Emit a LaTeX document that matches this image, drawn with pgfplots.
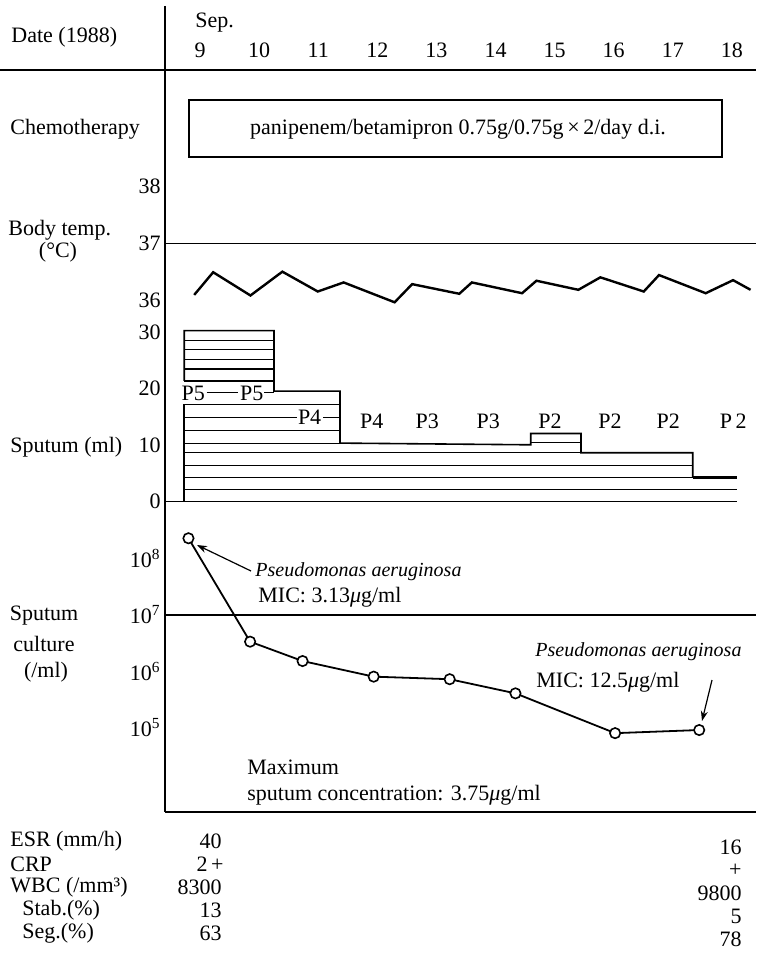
\documentclass[border=0pt]{standalone}
\usepackage{pgfplots}
\pgfplotsset{compat=1.18}
\usepackage{fontspec}
\setmainfont{Liberation Serif}
\usetikzlibrary{arrows.meta}

\pgfplotsset{
  panel/.style={
    scale only axis, width=295.5pt,
    xmin=8.408, xmax=18.408,
    axis line style={draw=none},
    tick style={draw=none},
    xtick=\empty,
    clip=false,
    anchor=south west,
    /pgf/number format/assume math mode=true,
    ticklabel style={font=\fontsize{11}{13}\selectfont},
    yticklabel style={anchor=east, inner sep=0pt, xshift=-2pt},
  },
  stripe/.style={line width=0.6pt, mark=none, black},
  outline/.style={line width=0.8pt, mark=none, black},
}

\begin{document}
\begin{tikzpicture}[font=\fontsize{11}{13}\selectfont]
\useasboundingbox (0pt,0pt) rectangle (378pt,-481.5pt);

% ---------------- Body temperature ----------------
\begin{axis}[panel, at={(82.5pt,-155pt)}, height=75pt,
  ymin=35.824, ymax=38.469, ytick={36,37,38}]
\draw[line width=0.8pt] (axis cs:8.408,37) -- (axis cs:18.408,37);
\addplot[line width=1.2pt, mark=none, black] coordinates {
(8.902,36.09) (9.223,36.49) (9.854,36.08) (10.394,36.50) (10.993,36.15)
(11.431,36.31) (12.293,35.96) (12.590,36.28) (13.387,36.11) (13.600,36.31)
(14.450,36.12) (14.693,36.34) (15.402,36.18) (15.775,36.40) (16.509,36.15)
(16.767,36.44) (17.557,36.12) (18.020,36.35) (18.316,36.18)};
\end{axis}

% ---------------- Sputum volume ----------------
\begin{axis}[panel, at={(82.5pt,-252.5pt)}, height=93.5pt,
  ymin=-0.655, ymax=32.44, ytick={0,10,20,30}]
% outline
\addplot[outline] coordinates {(8.734,21.3) (8.734,30.2) (10.252,30.2) (10.252,19.5)
  (11.369,19.5) (11.369,10.3) (14.596,10.0) (14.596,12.0) (15.447,12.0)
  (15.447,8.6) (17.337,8.6) (17.337,4.2)};
\addplot[line width=1.5pt, mark=none, black] coordinates {(17.337,4.2) (18.078,4.2)};
\addplot[outline] coordinates {(8.734,0) (8.734,17.2)};
% stripes, upper block
\addplot[stripe] coordinates {(8.734,28.5) (10.252,28.5)};
\addplot[stripe] coordinates {(8.734,26.9) (10.252,26.9)};
\addplot[stripe] coordinates {(8.734,25.1) (10.252,25.1)};
\addplot[stripe] coordinates {(8.734,23.4) (10.252,23.4)};
\addplot[stripe] coordinates {(8.734,21.3) (10.252,21.3)};
\addplot[stripe] coordinates {(9.113,19.2) (9.648,19.2)};
\addplot[stripe] coordinates {(10.085,19.2) (10.252,19.2)};
% stripes, lower blocks
\addplot[stripe] coordinates {(8.734,17.2) (11.369,17.2)};
\addplot[stripe] coordinates {(8.734,14.9) (10.636,14.9)};
\addplot[stripe] coordinates {(11.086,14.9) (11.369,14.9)};
\addplot[stripe] coordinates {(8.734,12.6) (11.369,12.6)};
\addplot[stripe] coordinates {(8.734,10.3) (11.369,10.3)};
\addplot[stripe] coordinates {(14.596,10.4) (15.447,10.4)};
\addplot[stripe] coordinates {(8.734,8.6) (15.447,8.6)};
\addplot[stripe] coordinates {(8.734,6.3) (17.337,6.3)};
\addplot[stripe] coordinates {(8.734,4.2) (17.337,4.2)};
\addplot[stripe] coordinates {(8.734,2.1) (18.078,2.1)};
\addplot[outline] coordinates {(8.408,0) (18.078,0)};
% P labels
\node[inner sep=0pt] at (axis cs:8.887,19.1) {P5};
\node[inner sep=0pt] at (axis cs:9.875,19.1) {P5};
\node[inner sep=0pt] at (axis cs:10.855,14.9) {P4};
\node[inner sep=0pt] at (axis cs:11.905,14.1) {P4};
\node[inner sep=0pt] at (axis cs:12.846,14.1) {P3};
\node[inner sep=0pt] at (axis cs:13.878,14.1) {P3};
\node[inner sep=0pt] at (axis cs:14.922,14.1) {P2};
\node[inner sep=0pt] at (axis cs:15.937,14.1) {P2};
\node[inner sep=0pt] at (axis cs:16.924,14.1) {P2};
\node[inner sep=0pt] at (axis cs:18.024,14.1) {P\,2};
\end{axis}

% ---------------- Sputum culture ----------------
\begin{axis}[panel, at={(82.5pt,-406pt)}, height=154.5pt, ymode=log,
  ymin=3258, ymax=9.59e8, ytick={1e5,1e6,1e7,1e8},
  yticklabels={10\textsuperscript{5},10\textsuperscript{6},10\textsuperscript{7},10\textsuperscript{8}}]
\draw[line width=0.8pt] (axis cs:8.408,1e7) -- (axis cs:18.408,1e7);
\addplot[line width=0.9pt, black, mark=*, mark size=2.6pt,
  mark options={fill=white, draw=black, line width=0.8pt}] coordinates {
(8.805,2.28e8) (9.848,3.37e6) (10.736,1.53e6) (11.939,8.1e5)
(13.225,7.3e5) (14.338,4.1e5) (16.024,8.1e4) (17.447,9.2e4)};
\end{axis}

% ---------------- frame and text (pixel coordinates) ----------------
\begin{scope}[x=0.5pt, y=-0.5pt, every node/.style={inner sep=0pt}]
\draw[line width=1pt] (165,6) -- (165,812);
\draw[line width=0.8pt] (0,70) -- (756,70);
\draw[line width=0.8pt] (165,812) -- (756,812);
% header
\node[anchor=west] at (11,37) {Date (1988)};
\node[anchor=west] at (195,23) {Sep.};
\foreach \d in {9,...,18} {\node at ({200+(\d-9)*59.1},50) {\d};}
% chemotherapy
\node[anchor=west] at (10,129) {Chemotherapy};
\draw[line width=0.8pt] (189,100) rectangle (722,157);
\node at (458,129) {panipenem/betamipron 0.75g/0.75g\,×\,2/day d.i.};
% left labels
\node[anchor=west] at (8,230) {Body temp.};
\node at (58,252) {(°C)};
\node[anchor=west] at (10,447) {Sputum (ml)};
\node at (44,616) {Sputum};
\node at (44,644) {culture};
\node at (46,672) {(/ml)};
% culture annotations
\node[anchor=west, font=\fontsize{10}{12}\selectfont\itshape] at (255,572) {Pseudomonas aeruginosa};
\node[anchor=west] at (258,597) {MIC: 3.13\textit{μ}g/ml};
\draw[line width=0.6pt, -{Stealth[length=5pt,width=3.5pt]}] (251,571) -- (197,545);
\node[anchor=west, font=\fontsize{10}{12}\selectfont\itshape] at (535,652) {Pseudomonas aeruginosa};
\node[anchor=west] at (536,682) {MIC: 12.5\textit{μ}g/ml};
\draw[line width=0.6pt, -{Stealth[length=5pt,width=3.5pt]}] (712,680) -- (702,721);
\node[anchor=west] at (247,767) {Maximum};
\node[anchor=west] at (247,795) {sputum concentration: 3.75\textit{μ}g/ml};
% lab table
\node[anchor=west] at (10,841) {ESR (mm/h)};
\node[anchor=west] at (10,864) {CRP};
\node[anchor=west] at (10,887) {WBC (/mm³)};
\node[anchor=west] at (22,910) {Stab.(\%)};
\node[anchor=west] at (22,933) {Seg.(\%)};
\node[anchor=east] at (222,841) {40};
\node[anchor=east] at (224,864) {2\,+};
\node[anchor=east] at (222,887) {8300};
\node[anchor=east] at (222,910) {13};
\node[anchor=east] at (222,933) {63};
\node[anchor=east] at (742,847) {16};
\node[anchor=east] at (742,870) {+};
\node[anchor=east] at (742,893) {9800};
\node[anchor=east] at (742,916) {5};
\node[anchor=east] at (742,939) {78};
\end{scope}
\end{tikzpicture}
\end{document}
